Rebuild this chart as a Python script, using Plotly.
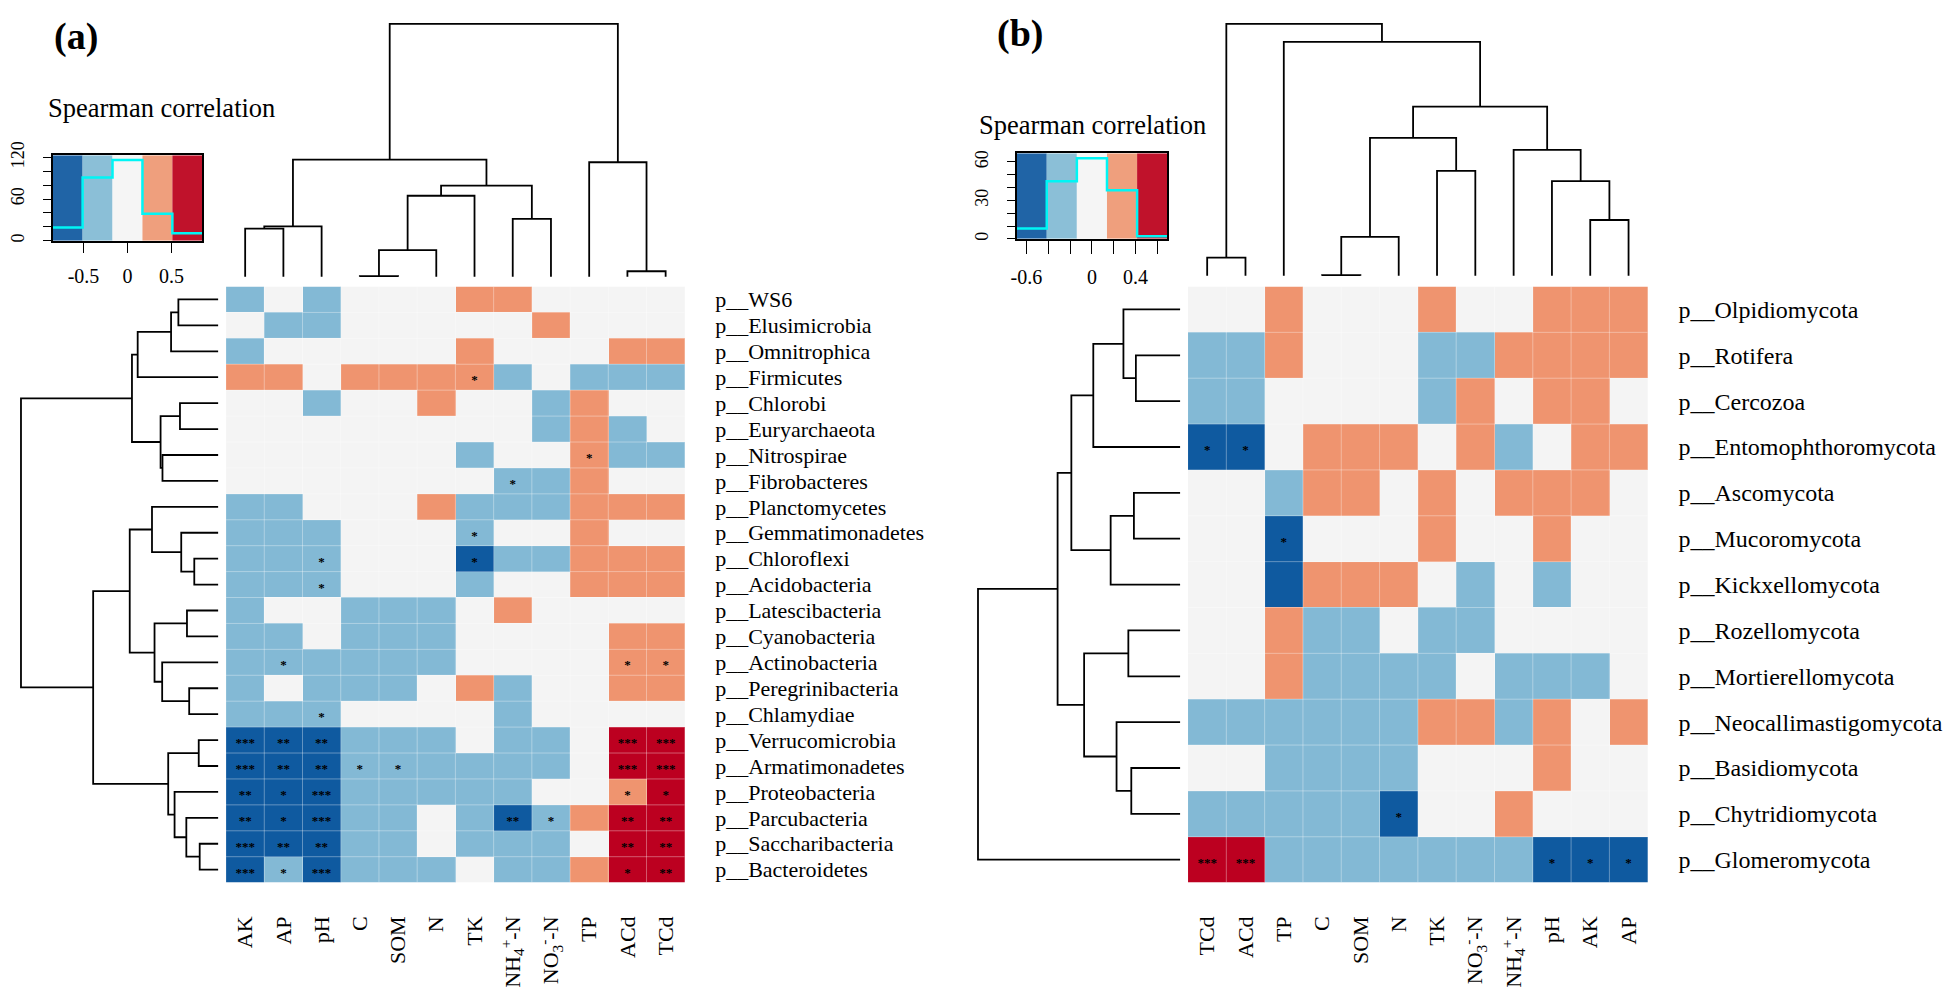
import plotly.graph_objects as go

# page is 1951x996; the browser's default 8px body margin is taken into account
PAGE_W, PAGE_H, OFF = 1951, 996, 8
W, H = PAGE_W - 2 * OFF, PAGE_H - 2 * OFF

# ---------------- panel (a): bacteria ----------------
cols_a = ["AK", "AP", "pH", "C", "SOM", "N", "TK",
          "NH<sub>4</sub><sup>+</sup>-N", "NO<sub>3</sub><sup>-</sup>-N", "TP", "ACd", "TCd"]
rows_a = ["p__WS6", "p__Elusimicrobia", "p__Omnitrophica", "p__Firmicutes", "p__Chlorobi",
          "p__Euryarchaeota", "p__Nitrospirae", "p__Fibrobacteres", "p__Planctomycetes",
          "p__Gemmatimonadetes", "p__Chloroflexi", "p__Acidobacteria", "p__Latescibacteria",
          "p__Cyanobacteria", "p__Actinobacteria", "p__Peregrinibacteria", "p__Chlamydiae",
          "p__Verrucomicrobia", "p__Armatimonadetes", "p__Proteobacteria", "p__Parcubacteria",
          "p__Saccharibacteria", "p__Bacteroidetes"]
corr_a = [
    [-.34, 0, -.34, 0, 0, 0, .34, .34, 0, 0, 0, 0],
    [0, -.34, -.34, 0, 0, 0, 0, 0, .34, 0, 0, 0],
    [-.34, 0, 0, 0, 0, 0, .34, 0, 0, 0, .34, .34],
    [.34, .34, 0, .34, .34, .34, .34, -.34, 0, -.34, -.34, -.34],
    [0, 0, -.34, 0, 0, .34, 0, 0, -.34, .34, 0, 0],
    [0, 0, 0, 0, 0, 0, 0, 0, -.34, .34, -.34, 0],
    [0, 0, 0, 0, 0, 0, -.34, 0, 0, .34, -.34, -.34],
    [0, 0, 0, 0, 0, 0, 0, -.34, -.34, .34, 0, 0],
    [-.34, -.34, 0, 0, 0, .34, -.34, -.34, -.34, .34, .34, .34],
    [-.34, -.34, -.34, 0, 0, 0, -.34, 0, 0, .34, 0, 0],
    [-.34, -.34, -.34, 0, 0, 0, -.68, -.34, -.34, .34, .34, .34],
    [-.34, -.34, -.34, 0, 0, 0, -.34, 0, 0, .34, .34, .34],
    [-.34, 0, 0, -.34, -.34, -.34, 0, .34, 0, 0, 0, 0],
    [-.34, -.34, 0, -.34, -.34, -.34, 0, 0, 0, 0, .34, .34],
    [-.34, -.34, -.34, -.34, -.34, -.34, 0, 0, 0, 0, .34, .34],
    [-.34, 0, -.34, -.34, -.34, 0, .34, -.34, 0, 0, .34, .34],
    [-.34, -.34, -.34, 0, 0, 0, 0, -.34, 0, 0, 0, 0],
    [-.68, -.68, -.68, -.34, -.34, -.34, 0, -.34, -.34, 0, .68, .68],
    [-.68, -.68, -.68, -.34, -.34, -.34, -.34, -.34, -.34, 0, .68, .68],
    [-.68, -.68, -.68, -.34, -.34, -.34, -.34, -.34, 0, 0, .34, .68],
    [-.68, -.68, -.68, -.34, -.34, 0, -.34, -.68, -.34, .34, .68, .68],
    [-.68, -.68, -.68, -.34, -.34, 0, -.34, -.34, -.34, 0, .68, .68],
    [-.68, -.34, -.68, -.34, -.34, -.34, 0, -.34, -.34, .34, .68, .68],
]
sig_a = [(3, 6, "*"), (6, 9, "*"), (7, 7, "*"), (9, 6, "*"), (10, 2, "*"), (10, 6, "*"),
         (11, 2, "*"), (14, 1, "*"), (14, 10, "*"), (14, 11, "*"), (16, 2, "*"),
         (17, 0, "***"), (17, 1, "**"), (17, 2, "**"), (17, 10, "***"), (17, 11, "***"),
         (18, 0, "***"), (18, 1, "**"), (18, 2, "**"), (18, 3, "*"), (18, 4, "*"),
         (18, 10, "***"), (18, 11, "***"),
         (19, 0, "**"), (19, 1, "*"), (19, 2, "***"), (19, 10, "*"), (19, 11, "*"),
         (20, 0, "**"), (20, 1, "*"), (20, 2, "***"), (20, 7, "**"), (20, 8, "*"),
         (20, 10, "**"), (20, 11, "**"),
         (21, 0, "***"), (21, 1, "**"), (21, 2, "**"), (21, 10, "**"), (21, 11, "**"),
         (22, 0, "***"), (22, 1, "*"), (22, 2, "***"), (22, 10, "*"), (22, 11, "**")]
breaks_a = [-0.85, -0.51, -0.17, 0.17, 0.51, 0.85]
# dendrogram merges (scipy-like: leaf ids 0..n-1, new clusters n, n+1, ...), heights
col_merges_a = [(0, 1, 148), (12, 2, 155), (3, 4, 2), (14, 5, 82), (15, 6, 249), (7, 8, 178),
                (16, 17, 280), (13, 18, 360), (10, 11, 17), (9, 20, 352), (19, 21, 777)]
row_merges_a = [(0, 1, 125), (23, 2, 148), (24, 3, 253), (4, 5, 120), (6, 7, 175), (26, 27, 181),
                (25, 28, 271), (10, 11, 75), (9, 30, 116), (8, 31, 208), (12, 13, 98), (15, 16, 91),
                (14, 34, 176), (33, 35, 200), (32, 36, 278), (17, 18, 61), (21, 22, 58),
                (20, 39, 100), (19, 40, 137), (38, 41, 157), (37, 42, 393), (29, 43, 620)]

# ---------------- panel (b): fungi ----------------
cols_b = ["TCd", "ACd", "TP", "C", "SOM", "N", "TK",
          "NO<sub>3</sub><sup>-</sup>-N", "NH<sub>4</sub><sup>+</sup>-N", "pH", "AK", "AP"]
rows_b = ["p__Olpidiomycota", "p__Rotifera", "p__Cercozoa", "p__Entomophthoromycota",
          "p__Ascomycota", "p__Mucoromycota", "p__Kickxellomycota", "p__Rozellomycota",
          "p__Mortierellomycota", "p__Neocallimastigomycota", "p__Basidiomycota",
          "p__Chytridiomycota", "p__Glomeromycota"]
corr_b = [
    [0, 0, .28, 0, 0, 0, .28, 0, 0, .28, .28, .28],
    [-.28, -.28, .28, 0, 0, 0, -.28, -.28, .28, .28, .28, .28],
    [-.28, -.28, 0, 0, 0, 0, -.28, .28, 0, .28, .28, 0],
    [-.55, -.55, 0, .28, .28, .28, 0, .28, -.28, 0, .28, .28],
    [0, 0, -.28, .28, .28, 0, .28, 0, .28, .28, .28, 0],
    [0, 0, -.55, 0, 0, 0, .28, 0, 0, .28, 0, 0],
    [0, 0, -.55, .28, .28, .28, 0, -.28, 0, -.28, 0, 0],
    [0, 0, .28, -.28, -.28, 0, -.28, -.28, 0, 0, 0, 0],
    [0, 0, .28, -.28, -.28, -.28, -.28, 0, -.28, -.28, -.28, 0],
    [-.28, -.28, -.28, -.28, -.28, -.28, .28, .28, -.28, .28, 0, .28],
    [0, 0, -.28, -.28, -.28, -.28, 0, 0, 0, .28, 0, 0],
    [-.28, -.28, -.28, -.28, -.28, -.55, 0, 0, .28, 0, 0, 0],
    [.55, .55, -.28, -.28, -.28, -.28, -.28, -.28, -.28, -.55, -.55, -.55],
]
sig_b = [(3, 0, "*"), (3, 1, "*"), (5, 2, "*"), (11, 5, "*"),
         (12, 0, "***"), (12, 1, "***"), (12, 9, "*"), (12, 10, "*"), (12, 11, "*")]
breaks_b = [-0.69, -0.414, -0.138, 0.138, 0.414, 0.69]
col_merges_b = [(0, 1, 56), (3, 4, 2), (13, 5, 120), (6, 7, 323), (14, 15, 425), (10, 11, 172),
                (9, 17, 292), (8, 18, 388), (16, 19, 521), (2, 20, 721), (12, 21, 776)]
row_merges_b = [(1, 2, 135), (0, 13, 173), (14, 3, 265), (4, 5, 141), (16, 6, 212), (15, 17, 332),
                (7, 8, 158), (10, 11, 149), (9, 20, 194), (19, 21, 293), (18, 22, 374), (23, 12, 617)]

cell_colors = ["#0F5AA0", "#83B9D5", "#F4F4F4", "#EF946F", "#BC0020"]
key_colors = ["#2064A6", "#8BBFD7", "#F5F5F5", "#EF9F7D", "#C0122B"]
FONT = "Liberation Serif"


def xdom(p0, p1):
    return [max(0.0, (p0 - OFF) / W), min(1.0, (p1 - OFF) / W)]


def ydom(p0, p1):
    return [max(0.0, 1 - (p1 - OFF) / H), min(1.0, 1 - (p0 - OFF) / H)]


def px(x):
    return (x - OFF) / W


def py(y):
    return 1 - (y - OFF) / H


def val_at(pa, va, pb, vb, p):
    return va + (p - pa) * (vb - va) / (pb - pa)


def dendro(n, merges):
    pos = {i: float(i) for i in range(n)}
    hgt = {i: 0.0 for i in range(n)}
    leaf, height = [], []
    for k, (a, b, h) in enumerate(merges):
        xa, xb = pos[a], pos[b]
        leaf += [xa, xa, xb, xb, None]
        height += [hgt[a], h, h, hgt[b], None]
        pos[n + k] = (xa + xb) / 2
        hgt[n + k] = h
    return leaf, height


def stepcolorscale(colors):
    cs = []
    k = len(colors)
    for i, c in enumerate(colors):
        cs += [[i / k, c], [(i + 1) / k, c]]
    return cs


def sfx(i):
    return "" if i == 1 else str(i)


base_ax = dict(showgrid=False, zeroline=False, showline=False, ticks="", showticklabels=False,
               fixedrange=True)

fig = go.Figure()
layout = dict(width=W, height=H, autosize=False, margin=dict(l=0, r=0, t=0, b=0, pad=0),
              paper_bgcolor="white", plot_bgcolor="white", showlegend=False,
              font=dict(family=FONT, color="black"))


def panel(idx, cols, rows, corr, sig, breaks, cmerges, rmerges, geo, fonts):
    ax = 4 * idx
    hx, rid, cid, kid = [sfx(ax + i) for i in range(1, 5)]
    nr, nc = len(rows), len(cols)
    hx0, hx1, hy0, hy1 = geo["heat"]
    # ---- heatmap ----
    fig.add_trace(go.Heatmap(z=corr, x=list(range(nc)), y=list(range(nr)),
                             zmin=breaks[0], zmax=breaks[-1],
                             colorscale=stepcolorscale(cell_colors), showscale=False,
                             hoverinfo="skip", xaxis="x" + hx, yaxis="y" + hx))
    gx, gy = [], []
    for c in range(1, nc):
        gx += [c - 0.5, c - 0.5, None]
        gy += [-0.5, nr - 0.5, None]
    for r in range(1, nr):
        gx += [-0.5, nc - 0.5, None]
        gy += [r - 0.5, r - 0.5, None]
    fig.add_trace(go.Scatter(x=gx, y=gy, mode="lines", hoverinfo="skip",
                             line=dict(color="rgba(255,255,255,0.35)", width=1),
                             xaxis="x" + hx, yaxis="y" + hx))
    rowpx = (hy1 - hy0) / nr
    off = 4.0 / rowpx
    fig.add_trace(go.Scatter(x=[s[1] for s in sig], y=[s[0] + off for s in sig],
                             text=["<b>" + s[2] + "</b>" for s in sig], mode="text",
                             textposition="middle center",
                             textfont=dict(family=FONT, size=13, color="black"), hoverinfo="skip",
                             xaxis="x" + hx, yaxis="y" + hx))
    layout["xaxis" + hx] = dict(base_ax, domain=xdom(hx0, hx1), range=[-0.5, nc - 0.5],
                                anchor="y" + hx, showticklabels=True, tickmode="array",
                                tickvals=list(range(nc)), ticktext=cols, tickangle=-90,
                                ticks="outside", ticklen=fonts["xgap"], tickcolor="rgba(0,0,0,0)",
                                tickfont=dict(family=FONT, size=fonts["col"]), side="bottom")
    layout["yaxis" + hx] = dict(base_ax, domain=ydom(hy0, hy1), range=[nr - 0.5, -0.5],
                                anchor="x" + hx, showticklabels=True, tickmode="array",
                                tickvals=list(range(nr)), ticktext=rows, side="right",
                                ticks="outside", ticklen=fonts["ygap"], tickcolor="rgba(0,0,0,0)",
                                tickfont=dict(family=FONT, size=fonts["row"]))
    # ---- row dendrogram (left) ----
    leaf, hh = dendro(nr, rmerges)
    fig.add_trace(go.Scatter(x=hh, y=leaf, mode="lines", hoverinfo="skip",
                             line=dict(color="black", width=1.8), xaxis="x" + rid, yaxis="y" + rid))
    p_leaf, p_root = geo["rowdend"]
    hroot = rmerges[-1][2]
    lo, hi = max(OFF, p_root - 3), p_leaf + 3
    layout["xaxis" + rid] = dict(base_ax, domain=xdom(lo, hi),
                                 range=[val_at(p_leaf, 0, p_root, hroot, lo),
                                        val_at(p_leaf, 0, p_root, hroot, hi)], anchor="y" + rid)
    layout["yaxis" + rid] = dict(base_ax, domain=ydom(hy0, hy1), range=[nr - 0.5, -0.5],
                                 anchor="x" + rid)
    # ---- column dendrogram (top) ----
    leaf, hh = dendro(nc, cmerges)
    fig.add_trace(go.Scatter(x=leaf, y=hh, mode="lines", hoverinfo="skip",
                             line=dict(color="black", width=1.8), xaxis="x" + cid, yaxis="y" + cid))
    p_leaf, p_root = geo["coldend"]
    hroot = cmerges[-1][2]
    lo, hi = max(OFF, p_root - 3), p_leaf + 3
    layout["xaxis" + cid] = dict(base_ax, domain=xdom(hx0, hx1), range=[-0.5, nc - 0.5],
                                 anchor="y" + cid)
    layout["yaxis" + cid] = dict(base_ax, domain=ydom(lo, hi),
                                 range=[val_at(p_leaf, 0, p_root, hroot, hi),
                                        val_at(p_leaf, 0, p_root, hroot, lo)], anchor="x" + cid)
    # ---- colour key with histogram ----
    flat = [v for r in corr for v in r]
    counts = [sum(1 for v in flat if breaks[i] < v <= breaks[i + 1]) for i in range(5)]
    ktop = geo["ktop"]
    centers = [(breaks[i] + breaks[i + 1]) / 2 for i in range(5)]
    widths = [breaks[i + 1] - breaks[i] for i in range(5)]
    fig.add_trace(go.Bar(x=centers, y=[ktop] * 5, width=widths, marker=dict(color=key_colors,
                         line=dict(width=0)), hoverinfo="skip", xaxis="x" + kid, yaxis="y" + kid))
    fig.add_trace(go.Scatter(x=breaks, y=counts + [counts[-1]], mode="lines", line_shape="hv",
                             line=dict(color="#00F5F5", width=2.5), hoverinfo="skip",
                             xaxis="x" + kid, yaxis="y" + kid))
    kx0, kx1, ky0, ky1 = geo["key"]
    layout["xaxis" + kid] = dict(base_ax, domain=xdom(kx0, kx1), range=[breaks[0], breaks[-1]],
                                 anchor="y" + kid, showline=True, linecolor="black", linewidth=1.5,
                                 mirror=True, ticks="outside", ticklen=geo["kticklen"], tickwidth=1.3,
                                 tickcolor="black", showticklabels=True, tickmode="array",
                                 tickvals=geo["kxticks"], ticktext=geo["kxlabels"],
                                 tickfont=dict(family=FONT, size=20), ticklabelstandoff=6)
    layout["yaxis" + kid] = dict(base_ax, domain=ydom(ky0, ky1), range=[0, ktop],
                                 anchor="x" + kid, showline=True, linecolor="black", linewidth=1.5,
                                 mirror=True, ticks="outside", ticklen=8, tickwidth=1.3,
                                 tickcolor="black", showticklabels=True, tickmode="array",
                                 tickvals=geo["kyticks"], ticktext=geo["kylabels"], tickangle=-90,
                                 tickfont=dict(family=FONT, size=18), ticklabelstandoff=12)


panel(0, cols_a, rows_a, corr_a, sig_a, breaks_a, col_merges_a, row_merges_a,
      geo=dict(heat=(217, 680, 280, 893), rowdend=(209, 10), coldend=(270, 10), ktop=123,
               key=(42, 193, 145, 233), kticklen=10,
               kxticks=[-0.5, 0, 0.5], kxlabels=["-0.5", "0", "0.5"],
               kyticks=[0, 20, 40, 60, 80, 100, 120], kylabels=["0", "", "", "60", "", "", "120"]),
      fonts=dict(col=22, row=22, xgap=24, ygap=25))
panel(1, cols_b, rows_b, corr_b, sig_b, breaks_b, col_merges_b, row_merges_b,
      geo=dict(heat=(1188, 1652, 280, 893), rowdend=(1180, 976), coldend=(269, 10), ktop=66.8,
               key=(1015, 1167, 143, 231), kticklen=13,
               kxticks=[-0.6, -0.4, -0.2, 0, 0.2, 0.4, 0.6],
               kxlabels=["-0.6", "", "", "0", "", "0.4", ""],
               kyticks=[0, 10, 20, 30, 40, 50, 60], kylabels=["0", "", "", "30", "", "", "60"]),
      fonts=dict(col=22, row=24, xgap=24, ygap=25))

annotations = [
    dict(text="<b>(a)</b>", x=px(41), y=py(23), xanchor="left", yanchor="middle",
         font=dict(family=FONT, size=38)),
    dict(text="<b>(b)</b>", x=px(993), y=py(20), xanchor="left", yanchor="middle",
         font=dict(family=FONT, size=38)),
    dict(text="Spearman correlation", x=px(35), y=py(96), xanchor="left", yanchor="middle",
         font=dict(family=FONT, size=26.5)),
    dict(text="Spearman correlation", x=px(975), y=py(114), xanchor="left", yanchor="middle",
         font=dict(family=FONT, size=26.5)),
]
for a in annotations:
    a.update(xref="paper", yref="paper", showarrow=False)
layout["annotations"] = annotations
fig.update_layout(**layout)

fig.write_html("out.html", config={"displayModeBar": False})
